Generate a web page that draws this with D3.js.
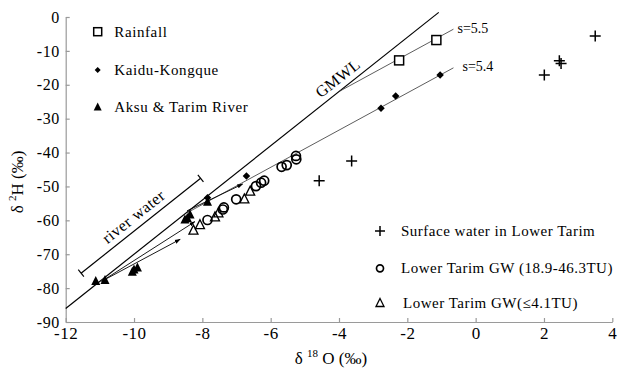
<!DOCTYPE html>
<html><head><meta charset="utf-8">
<script src="https://cdn.jsdelivr.net/npm/d3@7"></script>
<style>
body{margin:0;background:#fff;}
text{font-family:"Liberation Serif","Times New Roman",serif;fill:#000;}
</style></head>
<body><svg id="c" width="626" height="370"></svg>
<script>
// ---- data ----
const xTicks = [-12,-10,-8,-6,-4,-2,0,2,4];
const yTicks = [0,-10,-20,-30,-40,-50,-60,-70,-80,-90];

const rainfallX = [-2.24,-1.15];
const rainfallY = [-12.8,-6.8];
const kaiduX = [-7.85,-6.71,-2.77,-2.34,-1.04];
const kaiduY = [-53.3,-46.9,-26.9,-23.3,-17.1];
const aksuX = [-11.12,-10.85,-10.05,-10.0,-9.9,-8.51,-8.44,-8.36,-7.85];
const aksuY = [-78.0,-77.7,-75.3,-74.6,-74.0,-59.9,-59.4,-58.4,-54.6];
const surfaceX = [-4.58,-3.63,2.01,2.45,2.50,3.50];
const surfaceY = [-48.3,-42.5,-17.1,-12.9,-13.7,-5.6];
const gwHighX = [-7.85,-7.40,-7.37,-7.01,-6.43,-6.28,-6.19,-5.68,-5.53,-5.26,-5.25];
const gwHighY = [-59.9,-56.8,-56.2,-53.8,-49.9,-48.9,-48.3,-44.2,-43.7,-41.0,-42.0];
const gwLowX = [-8.26,-8.07,-7.63,-7.53,-6.77,-6.60];
const gwLowY = [-63.0,-61.4,-59.1,-57.9,-53.8,-51.5];

// GMWL: dD = 8 d18O + 10
const gmwlX = [-12,-1.08];
const rainLineX = [-4.0,-0.65], rainLineY = [-22.0,-3.6];
const kaiduLineX = [-8.45,-0.65], kaiduLineY = [-57.8,-15.0];
const arrowsX0 = [-10.95,-10.95,-8.45], arrowsY0 = [-78.0,-78.0,-57.2];
const arrowsX1 = [-8.65,-8.22,-6.82],  arrowsY1 = [-65.6,-60.4,-49.3];
const riverX = [-11.55,-8.05]; const riverOffset = 6.8;

// ---- scales ----
const svg = d3.select("#c");
const x = d3.scaleLinear().domain([-12,4]).range([65.7,612.3]);
const y = d3.scaleLinear().domain([-90,0]).range([322,17]);

// axes
const gx = svg.append("g").attr("transform","translate(0,322)")
  .call(d3.axisBottom(x).tickValues(xTicks).tickFormat(d=>String(d)).tickSizeInner(-4).tickSizeOuter(0).tickPadding(5));
const gy = svg.append("g").attr("transform","translate(65.7,0)")
  .call(d3.axisLeft(y).tickValues(yTicks).tickFormat(d=>String(d)).tickSizeInner(-4).tickSizeOuter(0).tickPadding(6));
[gx,gy].forEach((g,k)=>{
  g.select(".domain").attr("stroke","#9a9a9a").attr("stroke-width",1.2);
  g.selectAll(".tick line").attr("stroke","#9a9a9a").attr("stroke-width",1.2);
  g.selectAll(".tick text").attr("font-size",k===0?17:16).attr("fill","#000").attr("letter-spacing","0.5px");
});

// axis titles
const yl = svg.append("text").attr("transform","translate(23,182) rotate(-90)").attr("text-anchor","middle").attr("font-size",17);
yl.append("tspan").text("δ ");
yl.append("tspan").attr("font-size",11).attr("dy",-7).text("2");
yl.append("tspan").attr("dy",7).text("H (‰)");
const xl = svg.append("text").attr("x",331).attr("y",364).attr("text-anchor","middle").attr("font-size",17);
xl.append("tspan").text("δ ");
xl.append("tspan").attr("font-size",11).attr("dy",-7).text("18");
xl.append("tspan").attr("dy",7).text(" O (‰)");

// GMWL
svg.append("line").attr("x1",x(gmwlX[0])).attr("y1",y(8*gmwlX[0]+10)).attr("x2",x(gmwlX[1])).attr("y2",y(8*gmwlX[1]+10))
  .attr("stroke","#000").attr("stroke-width",1.2);
const ang = Math.atan2(y(8*-2+10)-y(8*-4+10), x(-2)-x(-4))*180/Math.PI;
svg.append("text").attr("transform",`translate(${x(-3.85)-3},${y(8*-3.85+10)-5}) rotate(${ang})`)
  .attr("text-anchor","middle").attr("font-size",16).attr("letter-spacing","0.3px").text("GMWL");

// regression lines
svg.append("line").attr("x1",x(rainLineX[0])).attr("y1",y(rainLineY[0])).attr("x2",x(rainLineX[1])).attr("y2",y(rainLineY[1]))
  .attr("stroke","#333").attr("stroke-width",0.8);
svg.append("line").attr("x1",x(kaiduLineX[0])).attr("y1",y(kaiduLineY[0])).attr("x2",x(kaiduLineX[1])).attr("y2",y(kaiduLineY[1]))
  .attr("stroke","#333").attr("stroke-width",0.8);
svg.append("text").attr("x",x(rainLineX[1])+4).attr("y",y(rainLineY[1])+4).attr("font-size",14).text("s=5.5");
svg.append("text").attr("x",x(kaiduLineX[1])+9).attr("y",y(kaiduLineY[1])+3).attr("font-size",14).text("s=5.4");

// arrows
const defs = svg.append("defs");
defs.append("marker").attr("id","ah").attr("viewBox","0 0 10 10").attr("refX",9).attr("refY",5)
  .attr("markerWidth",6).attr("markerHeight",6).attr("orient","auto").attr("markerUnits","userSpaceOnUse")
  .append("path").attr("d","M0,1.5 L10,5 L0,8.5 Z").attr("fill","#000");
arrowsX0.forEach((v,i)=>{
  svg.append("line").attr("x1",x(v)).attr("y1",y(arrowsY0[i])).attr("x2",x(arrowsX1[i])).attr("y2",y(arrowsY1[i]))
    .attr("stroke","#000").attr("stroke-width",0.9).attr("marker-end","url(#ah)");
});

// river water bracket
const rx1=x(riverX[0]), ry1=y(8*riverX[0]+10+riverOffset), rx2=x(riverX[1]), ry2=y(8*riverX[1]+10+riverOffset);
svg.append("line").attr("x1",rx1).attr("y1",ry1).attr("x2",rx2).attr("y2",ry2).attr("stroke","#000").attr("stroke-width",1.2);
const dx=rx2-rx1, dy=ry2-ry1, L=Math.hypot(dx,dy), nx=-dy/L*4.5, ny=dx/L*4.5;
[[rx1,ry1],[rx2,ry2]].forEach(([a,b])=>svg.append("line").attr("x1",a-nx).attr("y1",b-ny).attr("x2",a+nx).attr("y2",b+ny).attr("stroke","#000").attr("stroke-width",1.2));
svg.append("text").attr("transform",`translate(${(rx1+rx2)/2-4},${(ry1+ry2)/2-5}) rotate(${ang})`)
  .attr("text-anchor","middle").attr("font-size",16).attr("letter-spacing","0.5px").text("river water");

// symbol helpers
const sym = {
  square:(g,px,py,s)=>g.append("rect").attr("x",px-s/2).attr("y",py-s/2).attr("width",s).attr("height",s).attr("fill","#fff").attr("stroke","#000").attr("stroke-width",1.5),
  diamond:(g,px,py,s)=>g.append("path").attr("d",`M${px},${py-s/2}L${px+s/2},${py}L${px},${py+s/2}L${px-s/2},${py}Z`).attr("fill","#000"),
  tri:(g,px,py,s)=>g.append("path").attr("d",`M${px},${py-s*0.6}L${px+s/2},${py+s*0.4}L${px-s/2},${py+s*0.4}Z`).attr("fill","#000"),
  otri:(g,px,py,s)=>g.append("path").attr("d",`M${px},${py-s*0.6}L${px+s/2},${py+s*0.4}L${px-s/2},${py+s*0.4}Z`).attr("fill","none").attr("stroke","#000").attr("stroke-width",1.3),
  circle:(g,px,py,s)=>g.append("circle").attr("cx",px).attr("cy",py).attr("r",s/2).attr("fill","none").attr("stroke","#000").attr("stroke-width",1.7),
  plus:(g,px,py,s)=>g.append("path").attr("d",`M${px-s/2},${py}H${px+s/2}M${px},${py-s/2}V${py+s/2}`).attr("stroke","#000").attr("stroke-width",1.5).attr("fill","none")
};
const pts = svg.append("g");
gwLowX.forEach((v,i)=>sym.otri(pts,x(v),y(gwLowY[i]),9));
gwHighX.forEach((v,i)=>sym.circle(pts,x(v),y(gwHighY[i]),9));
surfaceX.forEach((v,i)=>sym.plus(pts,x(v),y(surfaceY[i]),11));
aksuX.forEach((v,i)=>sym.tri(pts,x(v),y(aksuY[i]),9));
kaiduX.forEach((v,i)=>sym.diamond(pts,x(v),y(kaiduY[i]),7.5));
rainfallX.forEach((v,i)=>sym.square(pts,x(v),y(rainfallY[i]),9));

// legends
const leg1 = [["square","Rainfall"],["diamond","Kaidu-Kongque"],["tri","Aksu & Tarim River"]];
const leg1Y = [31.7,70,107.3];
leg1.forEach((d,i)=>{
  sym[d[0]](svg,97.7,leg1Y[i],d[0]==="diamond"?6:8);
  svg.append("text").attr("x",114.3).attr("y",leg1Y[i]+5).attr("font-size",15).attr("letter-spacing","0.6px").text(d[1]);
});
const leg2 = [["plus","Surface water in Lower Tarim"],["circle","Lower Tarim GW (18.9-46.3TU)"],["otri","Lower Tarim GW(≤4.1TU)"]];
const leg2Y = [231,268.3,303.3];
const leg2X = [401,401,403];
leg2.forEach((d,i)=>{
  sym[d[0]](svg,380,leg2Y[i],d[0]==="plus"?10:(d[0]==="circle"?7:8));
  svg.append("text").attr("x",leg2X[i]).attr("y",leg2Y[i]+5).attr("font-size",15).attr("letter-spacing","0.5px").text(d[1]);
});
</script></body></html>
